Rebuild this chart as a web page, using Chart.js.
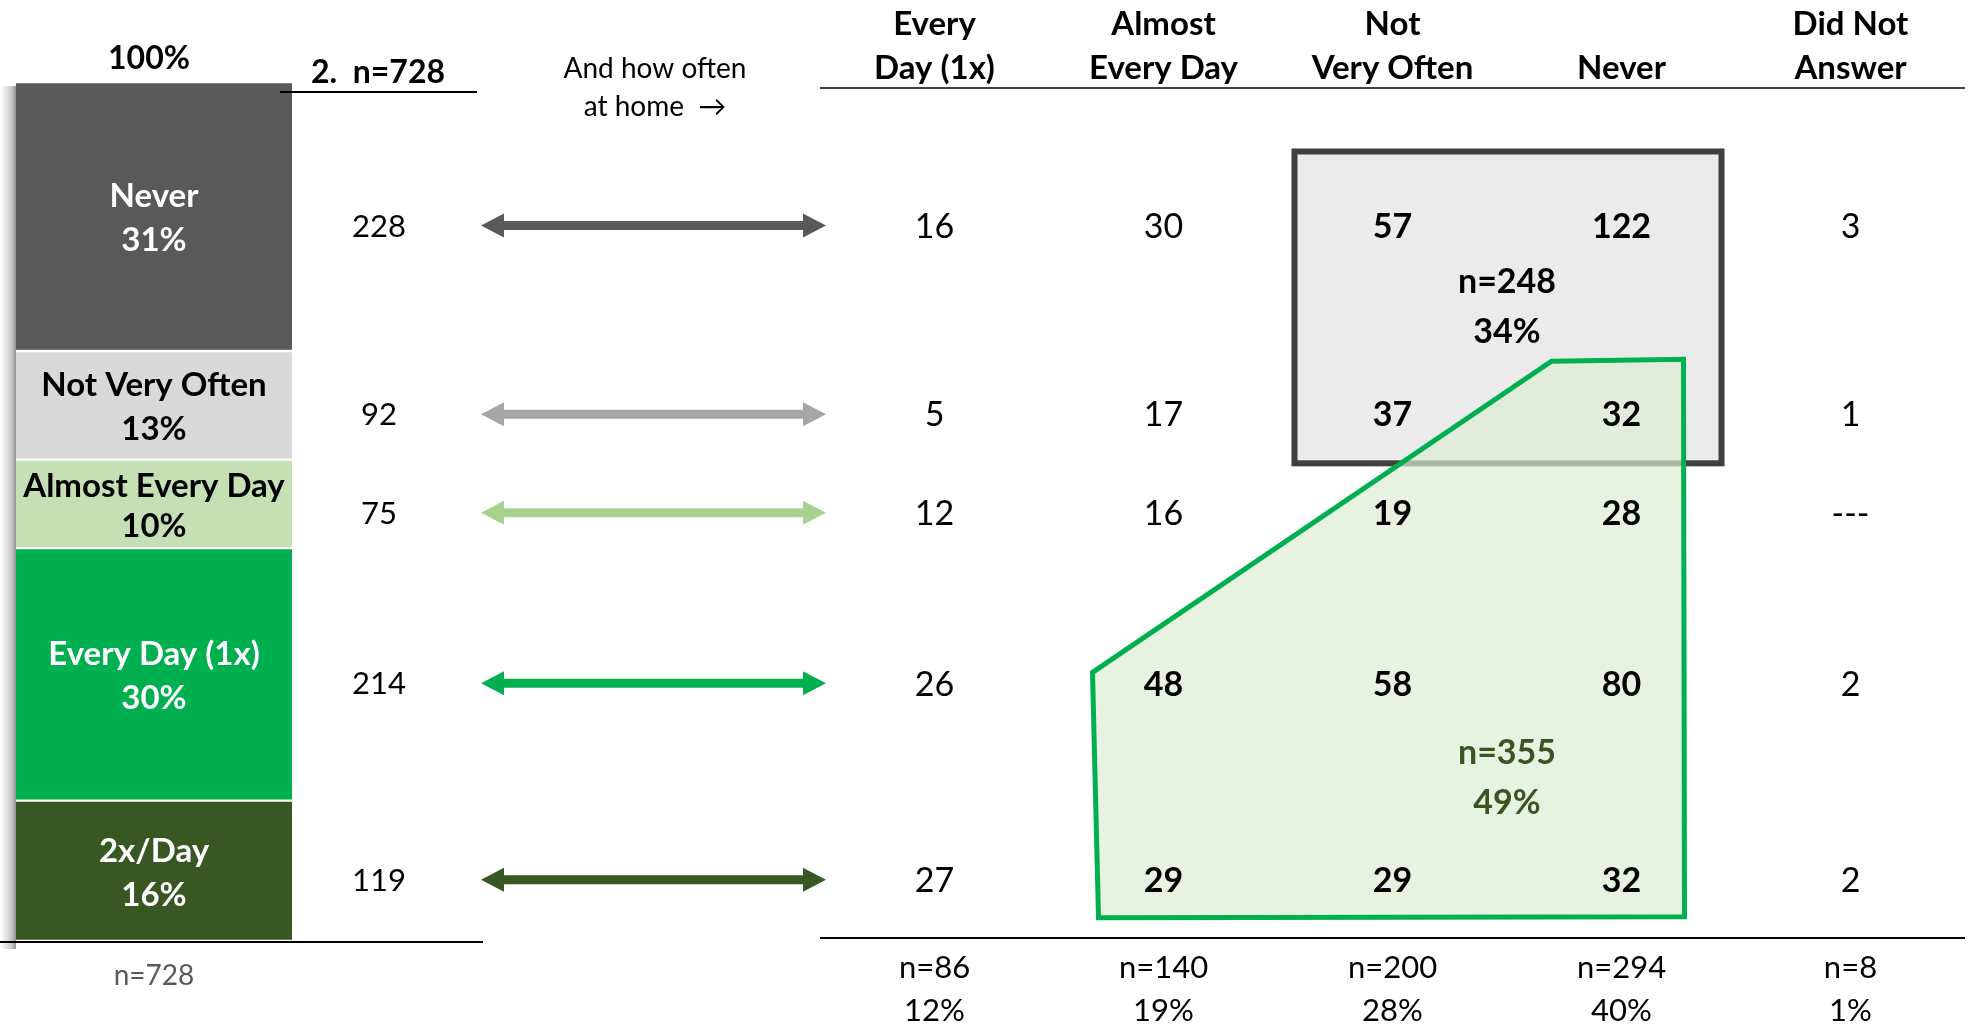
<!DOCTYPE html>
<html><head><meta charset="utf-8">
<script src="https://cdn.jsdelivr.net/npm/chart.js@4.4.1/dist/chart.umd.min.js"></script>
<style>
html,body{margin:0;padding:0;background:#fff;}
#wrap{position:relative;width:1975px;height:1028px;overflow:hidden;background:#fff;}
canvas{position:absolute;left:0;top:0;}
</style></head><body>
<div id="wrap"><canvas id="barChart" width="1975" height="1028"></canvas><canvas id="matrixChart" width="1975" height="1028"></canvas></div>
<script>
// ---------- DATA ----------
const rowLabels = ['Never', 'Not Very Often', 'Almost Every Day', 'Every Day (1x)', '2x/Day'];
const rowCounts = [228, 92, 75, 214, 119];
const rowPercents = ['31%', '13%', '10%', '30%', '16%'];
const totalLabel = 'n=728';
const topPercent = '100%';
const questionLabel = '2.  n=728';
const colHeaders = [['Every', 'Day (1x)'], ['Almost', 'Every Day'], ['Not', 'Very Often'], ['', 'Never'], ['Did Not', 'Answer']];
const colEveryDay = [16, 5, 12, 26, 27];
const colAlmostEveryDay = [30, 17, 16, 48, 29];
const colNotVeryOften = [57, 37, 19, 58, 29];
const colNever = [122, 32, 28, 80, 32];
const colDidNotAnswer = [3, 1, null, 2, 2];
const colTotals = ['n=86', 'n=140', 'n=200', 'n=294', 'n=8'];
const colPercents = ['12%', '19%', '28%', '40%', '1%'];
const boxGroup = { n: 'n=248', pct: '34%', cells: [[0,2],[0,3],[1,2],[1,3]] };
const greenGroup = { n: 'n=355', pct: '49%', cells: [[1,3],[2,2],[2,3],[3,1],[3,2],[3,3],[4,1],[4,2],[4,3]] };

// ---------- STYLE ----------
const rowColors = ['#595959', '#d9d9d9', '#c5e0b4', '#00b050', '#385723'];
const arrowColors = ['#595959', '#a6a6a6', '#a9d18e', '#00b050', '#385723'];
const rowTextColors = ['#ffffff', '#000000', '#000000', '#ffffff', '#ffffff'];
const FONT = "Lato, 'Noto Sans', 'DejaVu Sans', sans-serif";
const W = 1975, H = 1028;
const TOP = 82, BOTTOM = 941;
const ROW_SHIFT = 9;

function txt(ctx, s, x, cy, size, weight, color, align) {
  ctx.save();
  ctx.font = weight + ' ' + size + 'px ' + FONT;
  ctx.fillStyle = color;
  ctx.textAlign = align || 'center';
  ctx.textBaseline = 'alphabetic';
  ctx.fillText(s, x, cy + size * 0.358);
  ctx.restore();
}
function hline(ctx, x1, x2, y, color, w) {
  ctx.save(); ctx.strokeStyle = color; ctx.lineWidth = w;
  ctx.beginPath(); ctx.moveTo(x1, y); ctx.lineTo(x2, y); ctx.stroke(); ctx.restore();
}
function arrow(ctx, x1, x2, y, color) {
  const hl = 23, hh = 12, st = 4.5;
  ctx.save(); ctx.fillStyle = color; ctx.beginPath();
  ctx.moveTo(x1, y); ctx.lineTo(x1 + hl, y - hh); ctx.lineTo(x1 + hl, y - st);
  ctx.lineTo(x2 - hl, y - st); ctx.lineTo(x2 - hl, y - hh); ctx.lineTo(x2, y);
  ctx.lineTo(x2 - hl, y + hh); ctx.lineTo(x2 - hl, y + st); ctx.lineTo(x1 + hl, y + st);
  ctx.lineTo(x1 + hl, y + hh); ctx.closePath(); ctx.fill(); ctx.restore();
}
// cumulative midpoints (stack bottom = last row)
function rowMid(i) {
  let below = 0;
  for (let j = i + 1; j < rowCounts.length; j++) below += rowCounts[j];
  return below + rowCounts[i] / 2;
}
const total = rowCounts.reduce((a, b) => a + b, 0);

// ---------- LEFT STACKED BAR ----------
const order = rowLabels.map((_, i) => i).reverse();
const leftPlugin = {
  id: 'leftDecor',
  beforeDatasetsDraw(chart) {
    const ctx = chart.ctx, a = chart.chartArea;
    const g = ctx.createLinearGradient(a.left - 15, 0, a.left, 0);
    g.addColorStop(0, 'rgba(0,0,0,0)');
    g.addColorStop(0.7, 'rgba(0,0,0,0.22)');
    g.addColorStop(1, 'rgba(0,0,0,0.42)');
    ctx.save(); ctx.fillStyle = g;
    ctx.fillRect(a.left - 15, a.top + 4, 15, a.bottom - a.top + 4);
    ctx.restore();
  },
  afterDatasetsDraw(chart) {
    const ctx = chart.ctx, a = chart.chartArea, ys = chart.scales.y;
    const cx = (a.left + a.right) / 2;
    chart.data.datasets.forEach((ds, d) => {
      const i = ds.rowIndex;
      const el = chart.getDatasetMeta(d).data[0];
      const p = el.getProps(['y', 'base'], true);
      const mid = (p.y + p.base) / 2 + 1;
      const h = p.base - p.y;
      const sp = Math.min(44, h * 0.45);
      txt(ctx, rowLabels[i], cx, mid - sp / 2, 33, 'bold', rowTextColors[i]);
      txt(ctx, rowPercents[i], cx, mid + sp / 2, 33, 'bold', rowTextColors[i]);
      const ry = ys.getPixelForValue(rowMid(i)) + ROW_SHIFT;
      txt(ctx, String(rowCounts[i]), 379, ry, 31, 'normal', '#000');
      arrow(ctx, 481, 826, ry, arrowColors[i]);
    });
    txt(ctx, topPercent, cx - 5, 58, 32, 'bold', '#000');
    txt(ctx, questionLabel, 378, 72, 32, 'bold', '#000');
    hline(ctx, 280, 477, 92, '#000', 2);
    hline(ctx, 0, 483, 942, '#000', 2);
    txt(ctx, totalLabel, 154, 975, 28, 'normal', '#595959');
    txt(ctx, 'And how often', 655, 68, 28, 'normal', '#000');
    txt(ctx, 'at home  \u2192', 655, 106, 28, 'normal', '#000');
  }
};
new Chart(document.getElementById('barChart'), {
  type: 'bar',
  data: {
    labels: ['Q2'],
    datasets: order.map(i => ({
      label: rowLabels[i], rowIndex: i, data: [rowCounts[i]],
      backgroundColor: rowColors[i], borderColor: '#ffffff',
      borderWidth: { top: 1.5, bottom: 1.5, left: 0, right: 0 }, borderSkipped: false,
      barPercentage: 1, categoryPercentage: 1
    }))
  },
  options: {
    responsive: false, animation: false, devicePixelRatio: 1,
    layout: { padding: { left: 16, right: W - 292, top: TOP, bottom: H - BOTTOM } },
    plugins: { legend: { display: false }, tooltip: { enabled: false } },
    scales: {
      x: { display: false, stacked: true },
      y: { display: false, stacked: true, min: 0, max: total }
    }
  },
  plugins: [leftPlugin]
});

// ---------- RIGHT MATRIX ----------
const matrix = [colEveryDay, colAlmostEveryDay, colNotVeryOften, colNever, colDidNotAnswer];
const inGroup = (g, r, c) => g.cells.some(p => p[0] === r && p[1] === c);
const cellPoints = [];
matrix.forEach((col, c) => col.forEach((v, r) => cellPoints.push({ x: c, y: rowMid(r), v: v, r: r, c: c })));

const matrixPlugin = {
  id: 'matrixDecor',
  beforeDatasetsDraw(chart) {
    const ctx = chart.ctx, xs = chart.scales.x, ys = chart.scales.y;
    const cX = k => xs.getPixelForValue(k);
    const rY = k => ys.getPixelForValue(rowMid(k)) + ROW_SHIFT;
    // gray box
    const L = cX(2) - 101, R = cX(3) + 103, T = rY(0) - 77, B = rY(1) + 52;
    ctx.save();
    ctx.fillStyle = '#ebebeb'; ctx.fillRect(L, T, R - L, B - T);
    ctx.strokeStyle = '#404040'; ctx.lineWidth = 6;
    ctx.strokeRect(L + 3, T + 3, R - L - 6, B - T - 6);
    // green polygon
    const pts = [[cX(3) - 70, rY(1) - 53], [cX(3) + 62, rY(1) - 55], [cX(3) + 63, rY(4) + 37], [cX(1) - 65, rY(4) + 38], [cX(1) - 71, rY(3) - 11]];
    ctx.beginPath();
    pts.forEach((p, k) => k ? ctx.lineTo(p[0], p[1]) : ctx.moveTo(p[0], p[1]));
    ctx.closePath();
    ctx.fillStyle = 'rgba(220,236,212,0.69)'; ctx.fill();
    ctx.strokeStyle = '#00b050'; ctx.lineWidth = 5; ctx.lineJoin = 'miter'; ctx.stroke();
    ctx.restore();
  },
  afterDatasetsDraw(chart) {
    const ctx = chart.ctx, xs = chart.scales.x, ys = chart.scales.y;
    const meta = chart.getDatasetMeta(0);
    meta.data.forEach((el, k) => {
      const d = cellPoints[k];
      const bold = inGroup(boxGroup, d.r, d.c) || inGroup(greenGroup, d.r, d.c);
      txt(ctx, d.v === null ? '---' : String(d.v), el.x, el.y + ROW_SHIFT, 34, bold ? 'bold' : 'normal', '#000');
    });
    const cX = k => xs.getPixelForValue(k);
    const rY = k => ys.getPixelForValue(rowMid(k)) + ROW_SHIFT;
    colHeaders.forEach((h, c) => {
      if (h[0]) txt(ctx, h[0], cX(c), 23, 33, 'bold', '#000');
      txt(ctx, h[1], cX(c), 67, 33, 'bold', '#000');
      txt(ctx, colTotals[c], cX(c), 967, 31, 'normal', '#000');
      txt(ctx, colPercents[c], cX(c), 1010, 31, 'normal', '#000');
    });
    const a = chart.chartArea;
    hline(ctx, a.left, a.right, 88, '#404040', 2);
    hline(ctx, a.left, a.right, 938, '#000', 2);
    const gx = (cX(2) + cX(3)) / 2;
    txt(ctx, boxGroup.n, gx, rY(0) + 55, 34, 'bold', '#000');
    txt(ctx, boxGroup.pct, gx, rY(0) + 105, 34, 'bold', '#000');
    txt(ctx, greenGroup.n, gx, rY(3) + 68, 34, 'bold', '#3a5424');
    txt(ctx, greenGroup.pct, gx, rY(3) + 118, 34, 'bold', '#3a5424');
  }
};
new Chart(document.getElementById('matrixChart'), {
  type: 'scatter',
  data: { datasets: [{ label: 'cells', data: cellPoints, pointRadius: 0, pointHoverRadius: 0 }] },
  options: {
    responsive: false, animation: false, devicePixelRatio: 1,
    layout: { padding: { left: 820, right: W - 1965, top: TOP, bottom: H - BOTTOM } },
    plugins: { legend: { display: false }, tooltip: { enabled: false } },
    scales: {
      x: { type: 'linear', display: false, min: -0.5, max: 4.5 },
      y: { type: 'linear', display: false, min: 0, max: total }
    }
  },
  plugins: [matrixPlugin]
});
</script>
</body></html>
